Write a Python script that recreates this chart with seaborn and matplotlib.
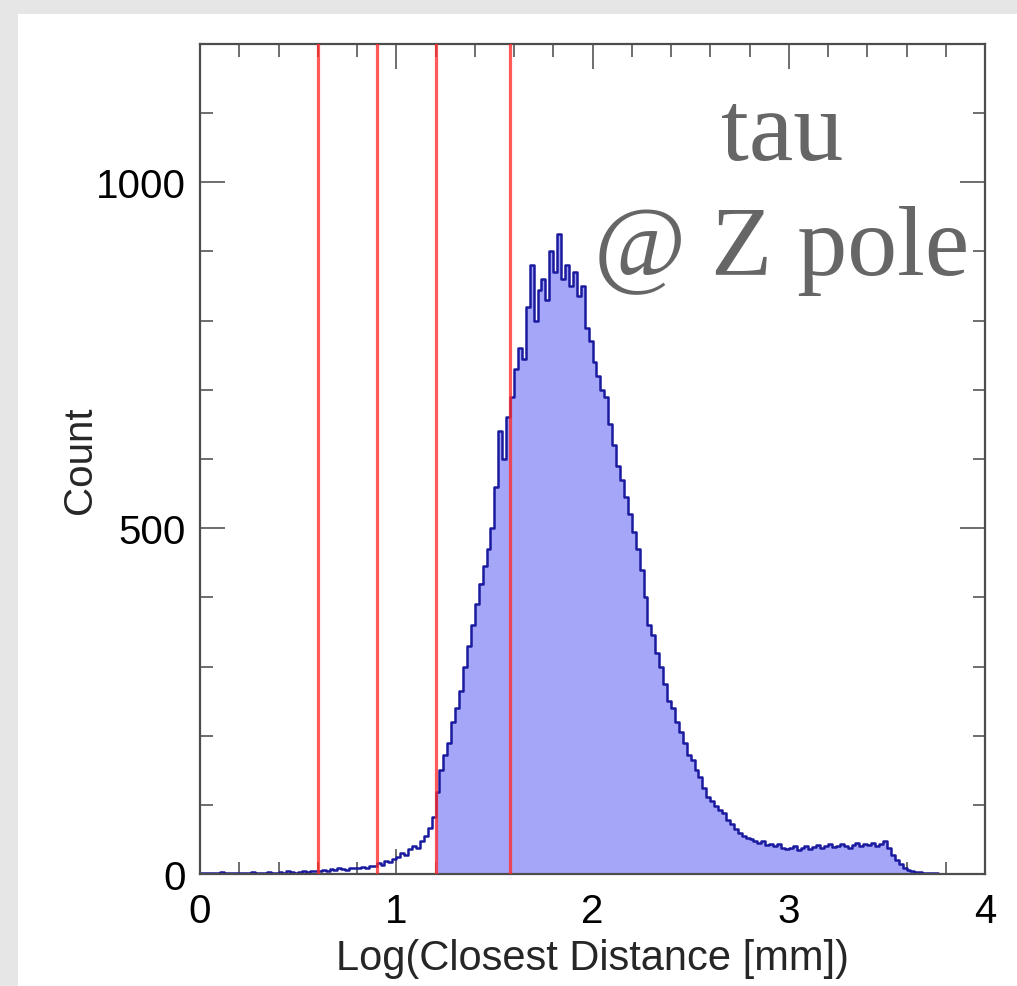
import numpy as np
import pandas as pd
import matplotlib
matplotlib.use("Agg")
import matplotlib.pyplot as plt
import seaborn as sns
from matplotlib.ticker import MultipleLocator, FixedLocator
from matplotlib.patches import Rectangle

# ---------------- data ----------------
bin_width = 0.02
counts = [
    1, 2, 1, 2, 1, 3, 2, 1, 2, 1,            # 0.0-0.2
    2, 1, 2, 3, 2, 1, 2, 3, 2, 2,            # 0.2-0.4
    3, 2, 4, 3, 2, 3, 5, 3, 4, 4,            # 0.4-0.6
    5, 6, 4, 7, 6, 8, 7, 6, 9, 8,            # 0.6-0.8
    8, 10, 9, 12, 11, 16, 13, 19, 17, 22,    # 0.8-1.0
    25, 30, 28, 36, 40, 38, 48, 55, 66, 82,  # 1.0-1.2
    118, 150, 172, 190, 220, 240, 265, 300, 330, 360,  # 1.2-1.4
    390, 420, 445, 470, 500, 560, 640, 600, 660, 690,  # 1.4-1.6
    730, 760, 745, 820, 880, 800, 845, 860, 830, 900,  # 1.6-1.8
    870, 925, 860, 880, 850, 870, 835, 850, 790, 770,  # 1.8-2.0
    740, 720, 700, 690, 650, 620, 590, 570, 545, 520,  # 2.0-2.2
    495, 470, 440, 400, 360, 345, 320, 300, 275, 250,  # 2.2-2.4
    240, 220, 205, 190, 172, 165, 150, 140, 125, 112,  # 2.4-2.6
    105, 98, 92, 88, 78, 72, 65, 60, 55, 52,           # 2.6-2.8
    50, 48, 45, 47, 42, 44, 40, 43, 38, 36,            # 2.8-3.0
    37, 40, 35, 38, 41, 36, 39, 42, 38, 40,            # 3.0-3.2
    43, 39, 41, 44, 40, 38, 42, 45, 41, 43,            # 3.2-3.4
    42, 45, 40, 44, 48, 38, 28, 20, 14, 9,             # 3.4-3.6
    6, 4, 3, 3, 2, 2, 1, 1, 0, 0,                      # 3.6-3.8
    0, 0, 0, 0, 0, 0, 0, 0, 0, 0,                      # 3.8-4.0
]
cut_lines = [0.60, 0.90, 1.20, 1.58]
fill_start = 1.20
x_ticks = [0, 1, 2, 3, 4]
y_ticks = [0, 500, 1000]
x_label = "Log(Closest Distance [mm])"
y_label = "Count"
annotation_lines = ["tau", "@ Z pole"]

# ---------------- style ----------------
sns.set_style("ticks")
plt.rcParams["font.family"] = ["Liberation Sans", "DejaVu Sans"]

W, H = 1017, 987
fig = plt.figure(figsize=(W / 100, H / 100), dpi=100)
fig.patch.set_facecolor("#e6e6e6")
fig.patches.append(Rectangle((18 / W, 0), 1 - 18 / W, (H - 15) / H,
                             transform=fig.transFigure, facecolor="white",
                             edgecolor="none", zorder=-10))

ax = fig.add_axes([200 / W, (H - 875) / H, 785 / W, 830 / H])
ax.set_facecolor("white")

n_bins = len(counts)
edges = [round(i * bin_width, 2) for i in range(n_bins + 1)]
centers = [round((i + 0.5) * bin_width, 3) for i in range(n_bins)]
df = pd.DataFrame({"x": centers, "n": [float(c) for c in counts]})
df_cut = df[df["x"] >= fill_start]
edges_cut = [e for e in edges if e >= fill_start - 1e-9]

# filled part (from the cut onwards)
sns.histplot(data=df_cut, x="x", weights="n", bins=edges_cut,
             element="step", fill=True, color="#a6a6f8", alpha=1.0,
             linewidth=0, ax=ax, zorder=1)
# outline of the whole distribution
sns.histplot(data=df, x="x", weights="n", bins=edges,
             element="step", fill=False, color="#1a1a9e", linewidth=1.8,
             ax=ax, zorder=2)

for xc in cut_lines:
    ax.axvline(xc, color="#ff2a2a", alpha=0.78, linewidth=2.3, zorder=3)

ax.set_xlim(0, 4)
ax.set_ylim(0, 1200)
ax.xaxis.set_major_locator(FixedLocator(x_ticks))
ax.yaxis.set_major_locator(FixedLocator(y_ticks))
ax.xaxis.set_minor_locator(MultipleLocator(0.2))
ax.yaxis.set_minor_locator(MultipleLocator(100))
ax.tick_params(which="both", direction="in", top=True, right=True,
               color="#555555", width=1.2)
ax.tick_params(which="major", length=18, labelsize=29, labelcolor="black")
ax.tick_params(axis="x", which="major", pad=13)
ax.tick_params(axis="y", which="major", pad=10)
ax.tick_params(which="minor", length=9)

for sp in ax.spines.values():
    sp.set_color("#4d4d4d")
    sp.set_linewidth(1.6)

ax.set_xlabel(x_label, fontsize=30, labelpad=6)
ax.set_ylabel(y_label, fontsize=29, labelpad=-2)
ax.grid(False)

fig.text(782 / W, (H - 160) / H, annotation_lines[0], ha="center",
         va="baseline", fontsize=72, color="#666666",
         family=["Liberation Serif", "DejaVu Serif"])
fig.text(782 / W, (H - 275) / H, annotation_lines[1], ha="center",
         va="baseline", fontsize=72, color="#666666",
         family=["Liberation Serif", "DejaVu Serif"])

fig.savefig("out.png", dpi=100, facecolor=fig.get_facecolor())
